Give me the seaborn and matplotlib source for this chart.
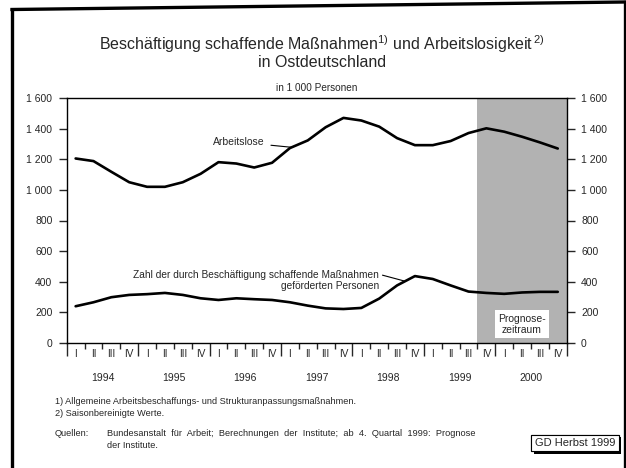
"""Beschäftigung schaffende Maßnahmen und Arbeitslosigkeit in Ostdeutschland"""
import numpy as np
import pandas as pd
import matplotlib
matplotlib.use('Agg')
import matplotlib.pyplot as plt
import matplotlib.patheffects as pe
from matplotlib.lines import Line2D
import seaborn as sns

# Quarterly data 1994 Q1 - 2000 Q4, in 1 000 persons
years = ['1994', '1995', '1996', '1997', '1998', '1999', '2000']
quarters = ['I', 'II', 'III', 'IV']
arbeitslose = [1205, 1188, 1118, 1050, 1020, 1020, 1050, 1105,
               1181, 1172, 1146, 1177, 1273, 1323, 1409, 1470,
               1453, 1413, 1338, 1292, 1292, 1319, 1371, 1402,
               1380, 1347, 1310, 1270]
abm = [240, 266, 299, 314, 319, 327, 314, 292,
       281, 292, 286, 281, 266, 244, 226, 222,
       229, 290, 376, 437, 418, 376, 336, 327,
       321, 330, 334, 334]
prognose_start = 23  # ab 4. Quartal 1999
y_ticks = [0, 200, 400, 600, 800, 1000, 1200, 1400, 1600]

W, H = 626, 468


def fx(px):
    return px / W


def fy(py):
    return 1 - py / H


sns.set_style('white')
plt.rcParams['font.family'] = ['Liberation Sans', 'DejaVu Sans']
plt.rcParams['mathtext.fontset'] = 'custom'
plt.rcParams['mathtext.rm'] = 'Liberation Sans'
plt.rcParams['mathtext.default'] = 'regular'

n = len(arbeitslose)
df = pd.DataFrame({'x': np.arange(n) + 0.5,
                   'arbeitslose': arbeitslose,
                   'abm': abm})

fig = plt.figure(figsize=(W / 100, H / 100), dpi=100)
ax = fig.add_axes([fx(66.7), fy(343), fx(566.7) - fx(66.7), fy(98) - fy(343)])

ax.axvspan(prognose_start, n, color='#b2b2b2', lw=0, zorder=0)
sns.lineplot(data=df, x='x', y='arbeitslose', color='black', lw=1.9, ax=ax)
sns.lineplot(data=df, x='x', y='abm', color='black', lw=1.9, ax=ax)

ax.set_xlim(0, n)
ax.set_ylim(0, 1600)
ax.set_xlabel('')
ax.set_ylabel('')

for s in ax.spines.values():
    s.set_color('black')
    s.set_linewidth(1.0)

# y axis on both sides
ax.set_yticks(y_ticks)
ax.set_yticklabels([f'{v:,}'.replace(',', ' ') for v in y_ticks])
ax.tick_params(axis='y', left=True, right=True, labelleft=True, labelright=True,
               direction='out', length=5.8, width=1.0, pad=4.5, labelsize=7.5)

# x axis: quarter ticks, longer year ticks
ax.set_xticks(np.arange(0, n + 1, 4))
ax.set_xticks(np.arange(0, n + 1), minor=True)
ax.set_xticklabels([])
ax.tick_params(axis='x', which='major', direction='out', length=9, width=1.0, bottom=True)
ax.tick_params(axis='x', which='minor', direction='out', length=4.5, width=1.0, bottom=True)

trans = ax.get_xaxis_transform()
for i in range(n):
    ax.text(i + 0.5, -0.043, quarters[i % 4], transform=trans,
            ha='center', va='center', fontsize=7.2)
for j, yr in enumerate(years):
    ax.text(j * 4 + 2, -0.143, yr, transform=trans,
            ha='center', va='center', fontsize=7.5)

# annotations
ax.annotate('Arbeitslose', xy=(df.x[12] + 0.1, arbeitslose[12] + 5),
            xytext=(11.1, 1312), ha='right', va='center', fontsize=7.5,
            arrowprops=dict(arrowstyle='-', color='black', lw=0.8,
                            shrinkA=2, shrinkB=0))
ax.annotate('Zahl der durch Beschäftigung schaffende Maßnahmen\ngeförderten Personen',
            xy=(18.9, 405), xytext=(17.5, 410), ha='right', va='center',
            multialignment='right', fontsize=7.3, linespacing=1.15,
            arrowprops=dict(arrowstyle='-', color='black', lw=0.8,
                            shrinkA=0, shrinkB=0, relpos=(1.0, 0.78)))

ax.text((prognose_start + n) / 2, 122, 'Prognose-\nzeitraum', ha='center', va='center',
        fontsize=7.5, linespacing=1.2,
        bbox=dict(boxstyle='square,pad=0.3', fc='white', ec='none'))

ax.text(0.5, 1.022, 'in 1 000 Personen', transform=ax.transAxes,
        ha='center', va='bottom', fontsize=7.2)

# title
fig.text(fx(322), fy(52), 'Beschäftigung schaffende Maßnahmen$^{1)}$ und Arbeitslosigkeit$^{\\,2)}$\n'
         'in Ostdeutschland', ha='center', va='center', fontsize=11.5, linespacing=1.0)

# footnotes
fig.text(fx(55), fy(401), '1) Allgemeine Arbeitsbeschaffungs- und Strukturanpassungsmaßnahmen.',
         ha='left', va='center', fontsize=6.6)
fig.text(fx(55), fy(413), '2) Saisonbereinigte Werte.', ha='left', va='center', fontsize=6.6)
fig.text(fx(55), fy(434), 'Quellen:', ha='left', va='center', fontsize=6.6)
fig.text(fx(107), fy(434), 'Bundesanstalt  für  Arbeit;  Berechnungen  der  Institute;  '
         'ab  4.  Quartal  1999:  Prognose', ha='left', va='center', fontsize=6.7)
fig.text(fx(107), fy(446), 'der Institute.', ha='left', va='center', fontsize=6.6)

gd = fig.text(fx(575), fy(443), 'GD Herbst 1999', ha='center', va='center', fontsize=8,
              bbox=dict(boxstyle='square,pad=0.3', fc='white', ec='black', lw=0.8))
gd.get_bbox_patch().set_path_effects([
    pe.withSimplePatchShadow(offset=(1.8, -1.8), shadow_rgbFace='black', alpha=1.0),
    pe.Normal()])

# outer frame
fig.add_artist(Line2D([fx(12), fx(12)], [0, fy(9.5)], transform=fig.transFigure,
                      color='black', lw=2.4, solid_capstyle='projecting'))
fig.add_artist(Line2D([fx(12), fx(624.5)], [fy(9.5), fy(2)], transform=fig.transFigure,
                      color='black', lw=2.4, solid_capstyle='projecting'))
fig.add_artist(Line2D([fx(624.5), fx(624.5)], [fy(2), 0], transform=fig.transFigure,
                      color='black', lw=2.4, solid_capstyle='projecting'))

fig.savefig('out.png', dpi=100)
